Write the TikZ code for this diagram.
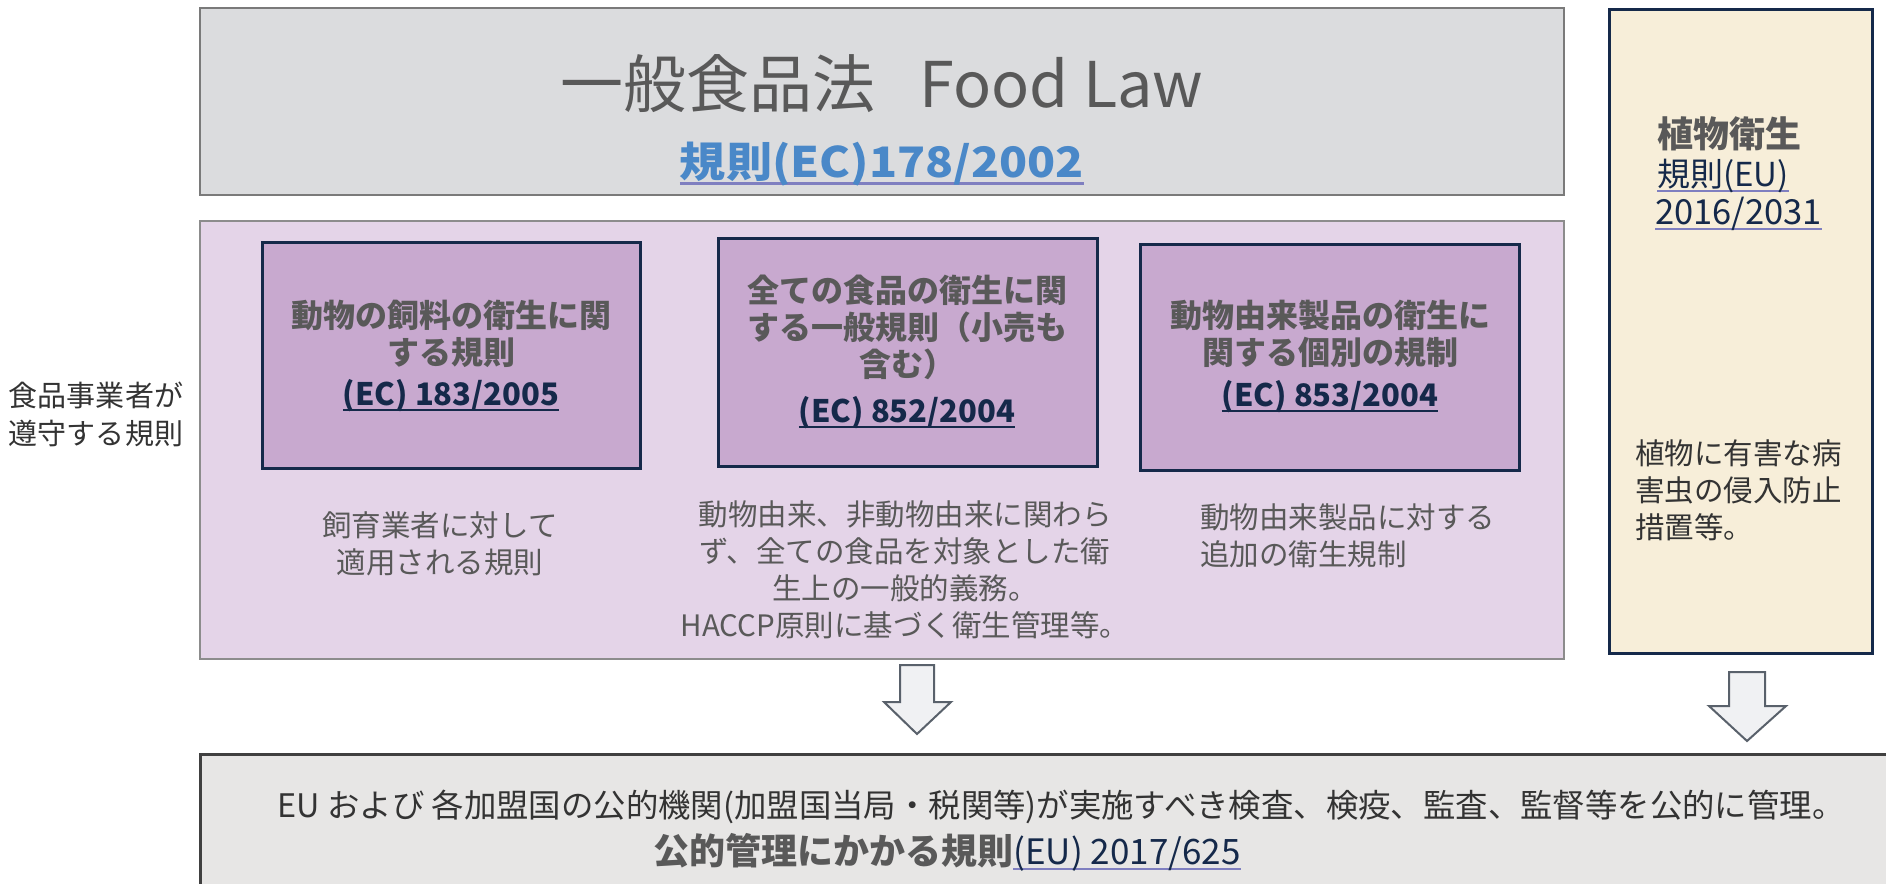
\documentclass[tikz,border=0pt]{standalone}
\usepackage{fontspec}
\setmainfont{Noto Sans CJK JP}
\definecolor{tgray}{HTML}{595959}
\definecolor{dgray}{HTML}{333333}
\definecolor{linkblue}{HTML}{4A88C8}
\definecolor{ulpurple}{HTML}{7F7FC0}
\definecolor{navy}{HTML}{15294A}
\definecolor{topfill}{HTML}{DBDCDE}
\definecolor{topline}{HTML}{7A7A7A}
\definecolor{panelfill}{HTML}{E4D4E8}
\definecolor{panelline}{HTML}{8C8C8C}
\definecolor{boxfill}{HTML}{C8A9CF}
\definecolor{plantfill}{HTML}{F7EED9}
\definecolor{botfill}{HTML}{E7E6E5}
\definecolor{botline}{HTML}{404040}
\definecolor{arrfill}{HTML}{F0F1F3}
\definecolor{arrline}{HTML}{59616B}
\newcommand\ulc[2]{\begingroup\setbox0=\hbox{#2}\rlap{\color{#1}\rule[-0.17em]{\wd0}{0.07em}}\box0\endgroup}
\tikzset{
  panel/.style={draw=#1, line width=2.5pt},
  rulebox/.style={draw=navy, line width=3pt, fill=boxfill},
  boxtitle/.style={text=tgray, font=\bfseries\fontsize{32}{37}\selectfont, align=center, inner sep=0pt},
  boxlink/.style={text=navy, font=\bfseries\fontsize{31}{37}\selectfont, inner sep=0pt},
  desc/.style={text=tgray, font=\fontsize{29.5}{37}\selectfont, inner sep=0pt},
  blockarrow/.style={draw=arrline, fill=arrfill, line width=2pt, line join=miter}
}
\begin{document}
\begin{tikzpicture}[x=1pt,y=-1pt]
\useasboundingbox (0,0) rectangle (1886,883);
\clip (0,0) rectangle (1886,883);
\fill[white] (0,0) rectangle (1886,883);
% top box
\draw[panel=topline, fill=topfill] (200,8) rectangle (1564,195);
\node[text=tgray, font=\fontsize{63}{70}\selectfont, inner sep=0pt] (title) at (882,84) {一般食品法\hspace{0.7em}Food Law};
\node[text=linkblue, font=\bfseries\fontsize{42}{46}\selectfont, inner sep=0pt] (reg) at (882,164) {\scalebox{1.1}[1]{\ulc{ulpurple}{規則(EC)178/2002}}};
% purple panel
\draw[panel=panelline, fill=panelfill] (200,221) rectangle (1564,659);
\draw[rulebox] (262,242) rectangle (640,468);
\draw[rulebox] (718,238) rectangle (1097,466);
\draw[rulebox] (1140,244) rectangle (1519,470);
\node[boxtitle] (b1t) at (451,333.5) {動物の飼料の衛生に関\\する規則};
\node[boxlink] (b1l) at (451,396) {\ulc{navy}{(EC) 183/2005}};
\node[boxtitle] (b2t) at (907,327) {全ての食品の衛生に関\\する一般規則（小売も\\含む）};
\node[boxlink] (b2l) at (907,413) {\ulc{navy}{(EC) 852/2004}};
\node[boxtitle] (b3t) at (1330,334) {動物由来製品の衛生に\\関する個別の規制};
\node[boxlink] (b3l) at (1330,397) {\ulc{navy}{(EC) 853/2004}};
\node[desc, align=center] (d1) at (440,544) {飼育業者に対して\\適用される規則};
\node[desc, align=center] (d2) at (905,570) {動物由来、非動物由来に関わら\\ず、全ての食品を対象とした衛\\生上の一般的義務。\\HACCP原則に基づく衛生管理等。};
\node[desc, align=left, anchor=west] (d3) at (1200,535.5) {動物由来製品に対する\\追加の衛生規制};
% left label
\node[text=dgray, font=\fontsize{29}{38}\selectfont, align=left, inner sep=0pt] (lab) at (96,414) {食品事業者が\\遵守する規則};
% plant box
\draw[draw=navy, line width=3pt, fill=plantfill] (1609,10) rectangle (1872,653);
\node[text=tgray, font=\bfseries\fontsize{36}{40}\selectfont, anchor=west, inner sep=0pt] (pt) at (1657,134) {植物衛生};
\node[text=navy, font=\fontsize{33}{38}\selectfont, anchor=west, inner sep=0pt] (pl1) at (1657,176) {\ulc{ulpurple}{規則(EU)}};
\node[text=navy, font=\fontsize{34.5}{38}\selectfont, anchor=west, inner sep=0pt] (pl2) at (1655,214) {\ulc{ulpurple}{2016/2031}};
\node[desc, text=dgray, align=left, anchor=west] (pd) at (1635,490) {植物に有害な病\\害虫の侵入防止\\措置等。};
% arrows
\draw[blockarrow] (900,665) -- (934,665) -- (934,702) -- (951,702) -- (917,734) -- (884,702) -- (900,702) -- cycle;
\draw[blockarrow] (1729,672) -- (1765,672) -- (1765,706) -- (1786,706) -- (1747,741) -- (1709,706) -- (1729,706) -- cycle;
% bottom box
\draw[draw=botline, line width=3pt, fill=botfill] (200,754) rectangle (1900,900);
\node[text=dgray, font=\fontsize{32.4}{38}\selectfont, inner sep=0pt] (bl1) at (1061,807) {EU および 各加盟国の公的機関(加盟国当局・税関等)が実施すべき検査、検疫、監査、監督等を公的に管理。};
\node[inner sep=0pt] (bl2) at (947,852) {\textcolor{tgray}{\bfseries\fontsize{36}{40}\selectfont 公的管理にかかる規則}\textcolor{navy}{\fontsize{35}{40}\selectfont\ulc{ulpurple}{(EU) 2017/625}}};
\end{tikzpicture}
\end{document}
